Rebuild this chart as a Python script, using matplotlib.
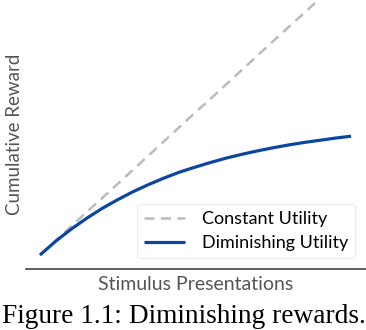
import matplotlib
matplotlib.use("Agg")
import matplotlib.pyplot as plt

# values (arbitrary units)
presentations = [0, 0.5, 1, 1.5, 2, 2.5, 3, 3.5, 4, 4.5, 5,
                 5.5, 6, 6.5, 7, 7.5, 8, 8.5, 9, 9.5, 10]
constant_utility = [0, 0.46, 0.92, 1.38, 1.83, 2.29, 2.75, 3.21, 3.67, 4.13, 4.59,
                    5.04, 5.50, 5.96, 6.42, 6.88, 7.34, 7.79, 8.25, 8.71, 9.17]
diminishing_utility = [0, 0.44, 0.83, 1.18, 1.50, 1.78, 2.04, 2.27, 2.48, 2.67, 2.83,
                       2.98, 3.12, 3.24, 3.35, 3.45, 3.54, 3.62, 3.69, 3.76, 3.82]

plt.rcParams['font.family'] = ['Lato', 'DejaVu Sans']

fig = plt.figure(figsize=(3.66, 3.30), dpi=100)
ax = fig.add_axes([26 / 366, 61 / 330, 340 / 366, 269 / 330])

ax.plot(presentations, constant_utility, color="#bbbbbb", lw=1.8,
        dashes=(4, 2.6), label="Constant Utility")
ax.plot(presentations, diminishing_utility, color="#0b46a0", lw=2.3,
        solid_capstyle="butt", label="Diminishing Utility")

ax.set_xlim(-0.45, 10.48)
ax.set_ylim(-0.45, 8.2)
ax.set_xticks([])
ax.set_yticks([])
for side in ("top", "right", "left"):
    ax.spines[side].set_visible(False)
ax.spines["bottom"].set_color("#444444")
ax.spines["bottom"].set_linewidth(1.2)

ax.set_xlabel("Stimulus Presentations", fontsize=14, color="#555555", labelpad=5)
ax.set_ylabel("Cumulative Reward", fontsize=13.5, color="#555555", labelpad=2)

leg = ax.legend(loc="lower right", fontsize=13, frameon=True, handlelength=2.3,
                borderaxespad=0.6, labelspacing=0.45, handletextpad=0.9)
leg.get_frame().set_edgecolor("#e6e6e6")
leg.get_frame().set_linewidth(0.8)

fig.text(2 / 366, 7 / 330, "Figure 1.1: Diminishing rewards.", fontsize=19.7,
         family="Liberation Serif", va="baseline", ha="left")

fig.savefig("out.png", dpi=100)
